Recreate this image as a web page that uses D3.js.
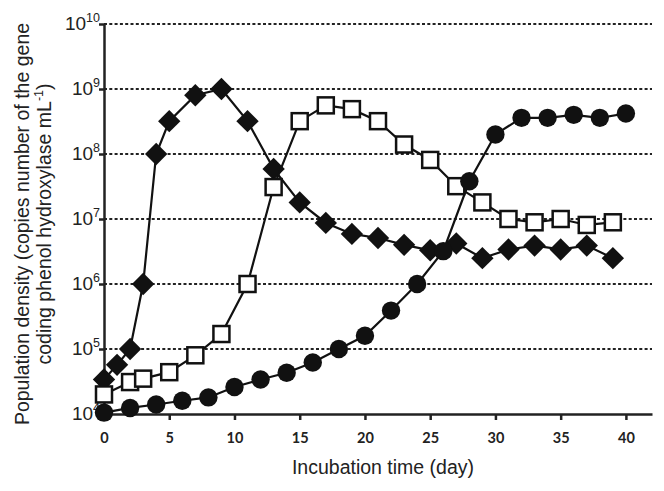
<!DOCTYPE html>
<html><head><meta charset="utf-8">
<script src="https://cdn.jsdelivr.net/npm/d3@7"></script>
<style>html,body{margin:0;padding:0;background:#fff;}</style>
</head><body>
<svg id="c" width="664" height="491"></svg>
<script>
const diamondDays = [0,1,2,3,4,5,7,9,11,13,15,17,19,21,23,25,27,29,31,33,35,37,39];
const diamondVals = [3.4e4,5.7e4,1e5,1e6,1e8,3.2e8,8e8,1e9,3.2e8,5.9e7,1.8e7,8.7e6,5.9e6,5.1e6,4.0e6,3.3e6,4.2e6,2.5e6,3.4e6,3.9e6,3.4e6,3.9e6,2.5e6];
const squareDays = [0,2,3,5,7,9,11,13,15,17,19,21,23,25,27,29,31,33,35,37,39];
const squareVals = [2.0e4,3.1e4,3.5e4,4.4e4,8e4,1.7e5,1e6,3.1e7,3.2e8,5.6e8,4.9e8,3.2e8,1.4e8,8.1e7,3.2e7,1.8e7,1e7,8.9e6,1e7,8.1e6,8.9e6];
const circleDays = [0,2,4,6,8,10,12,14,16,18,20,22,24,26,28,30,32,34,36,38,40];
const circleVals = [1.05e4,1.24e4,1.4e4,1.6e4,1.8e4,2.6e4,3.4e4,4.3e4,6.2e4,1e5,1.6e5,3.9e5,1e6,3.2e6,3.8e7,2.0e8,3.6e8,3.6e8,4.0e8,3.6e8,4.2e8];
const xTicks = [0,5,10,15,20,25,30,35,40];
const yExps = [4,5,6,7,8,9,10];

const svg = d3.select("#c");
const x = d3.scaleLinear().domain([0,42]).range([104,652]);
const y = d3.scaleLog().domain([1e4,1e10]).range([414,24]);
const FONT = "'Liberation Sans', Arial, sans-serif";

// gridlines
svg.append("g").selectAll("line").data(yExps.filter(e=>e>4)).join("line")
  .attr("x1",104).attr("x2",652)
  .attr("y1",e=>y(Math.pow(10,e))).attr("y2",e=>y(Math.pow(10,e)))
  .attr("stroke","#222").attr("stroke-width",2.2).attr("stroke-dasharray","3,2.3");

// x axis
const xa = svg.append("g").attr("transform","translate(0,414)")
  .call(d3.axisBottom(x).tickValues(xTicks).tickSize(6).tickSizeOuter(0).tickPadding(13));
xa.select(".domain").attr("stroke","#222").attr("stroke-width",2.5);
xa.selectAll(".tick line").attr("stroke","#222").attr("stroke-width",2.5);
xa.selectAll(".tick text").attr("font-family","Lato, 'Open Sans', sans-serif").attr("font-weight","bold")
  .attr("font-size",14.5).attr("fill","#222");

// y axis
const ya = svg.append("g").attr("transform","translate(104,0)")
  .call(d3.axisLeft(y).tickValues(yExps.map(e=>Math.pow(10,e))).tickSize(5).tickSizeOuter(0).tickFormat(""));
ya.select(".domain").attr("stroke","#222").attr("stroke-width",2.5);
ya.selectAll(".tick line").attr("stroke","#222").attr("stroke-width",2.5);

const yl = svg.append("g").selectAll("text").data(yExps).join("text")
  .attr("x",100).attr("y",e=>y(Math.pow(10,e))+6)
  .attr("text-anchor","end")
  .attr("font-family",FONT).attr("font-size",19).attr("fill","#222");
yl.append("tspan").text("10");
yl.append("tspan").attr("dy",-8).attr("font-size",12.5).text(e=>e);

// axis titles
svg.append("text").attr("x",383).attr("y",474).attr("text-anchor","middle")
  .attr("font-family",FONT).attr("font-size",19.5).attr("fill","#222")
  .text("Incubation time (day)");
const yt = svg.append("text").attr("transform","translate(0,224) rotate(-90)")
  .attr("text-anchor","middle")
  .attr("font-family",FONT).attr("font-size",19.5).attr("fill","#222");
yt.append("tspan").attr("x",0).attr("y",28.5).text("Population density (copies number of the gene");
yt.append("tspan").attr("x",0).attr("y",50.5).text("coding phenol hydroxylase mL");
yt.append("tspan").attr("dy",-8).attr("font-size",12.5).text("-1");
yt.append("tspan").attr("dy",8).text(")");

const line = d3.line().x(d=>x(d[0])).y(d=>y(d[1]));
const dD = diamondDays.map((d,i)=>[d,diamondVals[i]]);
const sD = squareDays.map((d,i)=>[d,squareVals[i]]);
const cD = circleDays.map((d,i)=>[d,circleVals[i]]);

function series(data, kind){
  const g = svg.append("g");
  g.append("path").datum(data).attr("d",line).attr("fill","none").attr("stroke","#111").attr("stroke-width",2.2);
  if(kind==="diamond"){
    g.selectAll("path.m").data(data).join("path").attr("class","m")
      .attr("d",d3.symbol(d3.symbolSquare, 250))
      .attr("transform",d=>`translate(${x(d[0])},${y(d[1])}) rotate(45)`)
      .attr("fill","#111");
  } else if(kind==="square"){
    g.selectAll("rect").data(data).join("rect")
      .attr("x",d=>x(d[0])-8).attr("y",d=>y(d[1])-8).attr("width",16).attr("height",16)
      .attr("fill","#fff").attr("stroke","#111").attr("stroke-width",2.5);
  } else {
    g.selectAll("circle").data(data).join("circle")
      .attr("cx",d=>x(d[0])).attr("cy",d=>y(d[1])).attr("r",9.2)
      .attr("fill","#111");
  }
}
series(dD,"diamond");
series(sD,"square");
series(cD,"circle");
</script>
</body></html>
